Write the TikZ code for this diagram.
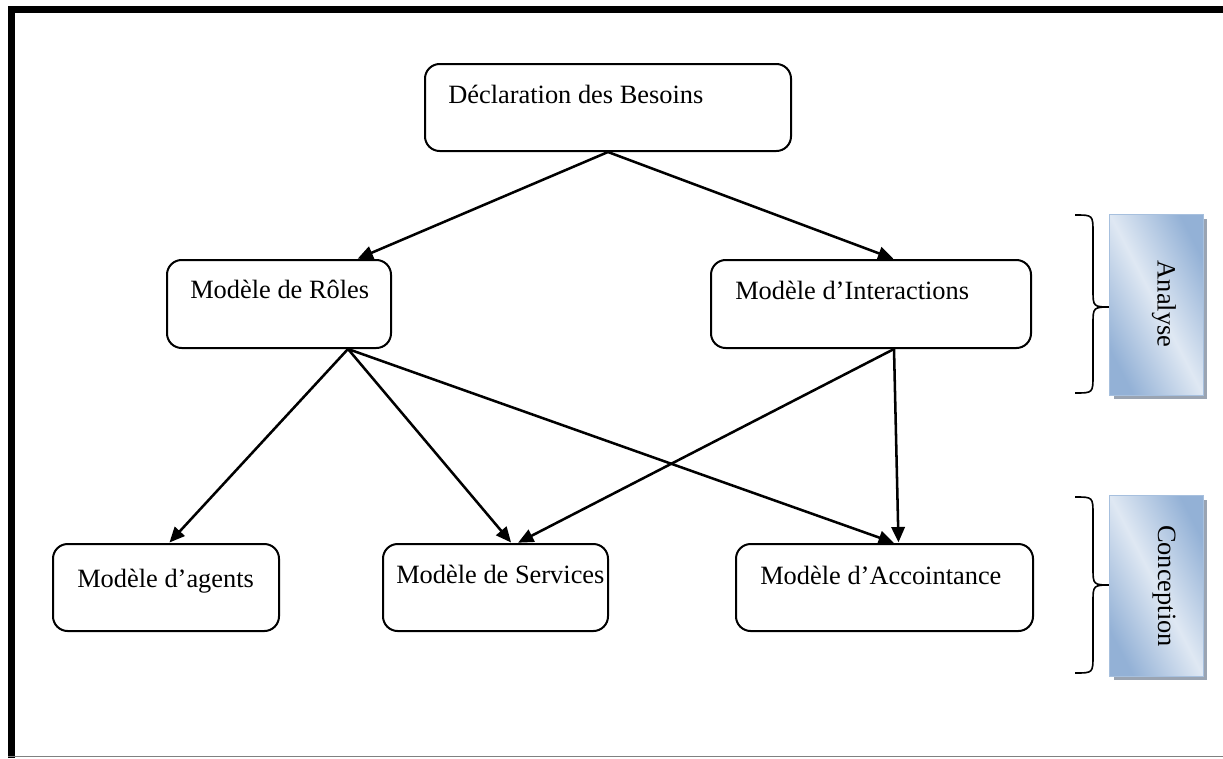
\documentclass[tikz,border=0pt]{standalone}
\usepackage{fontspec}
\setmainfont{Liberation Serif}
\usetikzlibrary{arrows.meta,calc,shadows}
\definecolor{phdark}{HTML}{93B1D6}
\definecolor{phlight}{HTML}{DFE8F3}
\definecolor{phedge}{HTML}{A7C0DE}
\definecolor{phshadow}{HTML}{9AA4B2}
% diagonal band: dark at both sides, light in the middle
\pgfdeclareverticalshading{phaseband}{100bp}{color(0bp)=(phdark); color(35bp)=(phdark); color(50bp)=(phlight); color(65bp)=(phdark); color(100bp)=(phdark)}
\tikzset{
  stagebox/.style={draw, line width=1.5pt, rounded corners=11pt, anchor=north west, inner sep=0pt},
  lbl/.style={anchor=west, inner sep=0pt, font=\fontsize{19.8}{24}\selectfont},
  flow/.style={line width=1.9pt, -{Triangle[length=11.5pt,width=10pt]}, shorten >=0.5pt},
  phase/.style={fill=phdark, minimum width=70pt, minimum height=135pt, inner sep=0pt,
    drop shadow={shadow xshift=3pt, shadow yshift=-3pt, fill=phshadow, opacity=1}},
  phaselbl/.style={rotate=-90, inner sep=0pt, font=\fontsize{19.8}{24}\selectfont},
  bracket/.style={line width=1.2pt}
}
\begin{document}
\begin{tikzpicture}[x=0.75pt,y=-0.75pt]
\useasboundingbox (0,0) rectangle (1223,758);

% page frame
\draw[line width=4.9pt] (11.5,758) -- (11.5,9.5) -- (1223,9.5);
\draw[gray, line width=1.1pt] (8,756.5) -- (1223,756.5);

% model boxes
\node[stagebox, minimum width=274.5pt, minimum height=65.25pt] (decl) at (424,63) {};
\node[stagebox, minimum width=168pt, minimum height=66pt] (roles) at (166,259) {};
\node[stagebox, minimum width=240pt, minimum height=66pt] (inter) at (710,259) {};
\node[stagebox, minimum width=169.5pt, minimum height=65.25pt] (agents) at (52,543) {};
\node[stagebox, minimum width=168.75pt, minimum height=65.25pt] (services) at (382,543) {};
\node[stagebox, minimum width=222.75pt, minimum height=65.25pt] (accoint) at (735,543) {};

% box labels
\node[lbl] (tdecl) at (448,94) {Déclaration des Besoins};
\node[lbl] (troles) at (190,289) {Modèle de Rôles};
\node[lbl] (tinter) at (735,290) {Modèle d’Interactions};
\node[lbl] (tagents) at (77,581) {Modèle d’agents};
\node[lbl] (tservices) at (396,574) {Modèle de Services};
\node[lbl] (taccoint) at (760,575) {Modèle d’Accointance};

% connection points
\coordinate (rolesIn) at ($(roles.north)+(78,0)$);
\coordinate (interIn) at ($(inter.north)+(23,0)$);
\coordinate (rolesOut) at ($(roles.south)+(69,0)$);
\coordinate (interOut) at ($(inter.south)+(23,0)$);
\coordinate (agentsIn) at ($(agents.north)+(3,0)$);
\coordinate (servIn1) at ($(services.north)+(16,0)$);
\coordinate (servIn2) at ($(services.north)+(22,0)$);
\coordinate (accIn1) at ($(accoint.north)+(10,0)$);
\coordinate (accIn2) at ($(accoint.north)+(14,0)$);

% connectors
\draw[flow] (decl.south) -- (rolesIn);
\draw[flow] (decl.south) -- (interIn);
\draw[flow] (rolesOut) -- (agentsIn);
\draw[flow] (rolesOut) -- (servIn1);
\draw[flow] (rolesOut) -- (accIn1);
\draw[flow] (interOut) -- (servIn2);
\draw[flow] (interOut) -- (accIn2);

% phase braces
\draw[bracket] (1075,215) .. controls (1093,215) .. (1093,233) -- (1093,290)
  .. controls (1093,307) .. (1112,307) .. controls (1093,307) .. (1093,324)
  -- (1093,375) .. controls (1093,393) .. (1075,393);
\draw[bracket] (1075,497) .. controls (1093,497) .. (1093,515) -- (1093,568)
  .. controls (1093,585) .. (1112,585) .. controls (1093,585) .. (1093,602)
  -- (1093,655) .. controls (1093,673) .. (1075,673);

% phase boxes with diagonal gradient
\node[phase] (analyse) at (1156.5,305) {};
\node[phase] (conception) at (1156.5,586) {};
\foreach \ph in {analyse,conception}{
  \begin{scope}
    \clip (\ph.north west) rectangle (\ph.south east);
    \shade[shading=phaseband, shading angle=-62.7]
      ($(\ph.center)+(-104,-104)$) rectangle ($(\ph.center)+(104,104)$);
  \end{scope}
  \draw[phedge, line width=0.8pt] (\ph.north west) rectangle (\ph.south east);
}
\node[phaselbl] (tanalyse) at (1164,304) {Analyse};
\node[phaselbl] (tconception) at (1164,586) {Conception};
\end{tikzpicture}
\end{document}
